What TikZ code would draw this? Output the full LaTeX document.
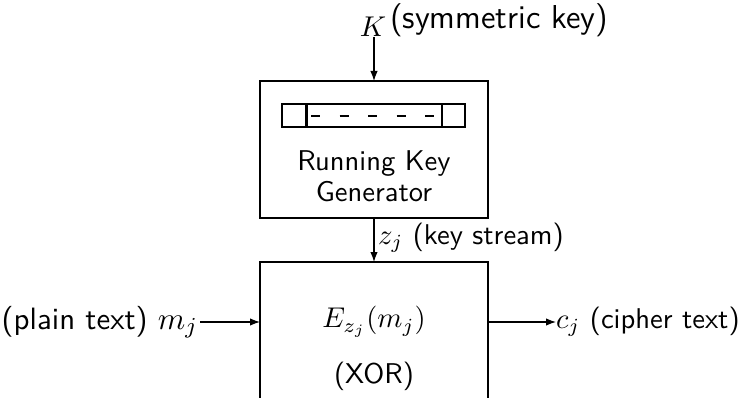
\documentclass[tikz,border=0pt]{standalone}
\usetikzlibrary{arrows.meta}
\begin{document}
\begin{tikzpicture}[x=0.35pt,y=-0.35pt,
  every node/.style={font=\sffamily, inner sep=0pt, outer sep=0pt},
  blk/.style={draw, line width=0.4pt},
  conn/.style={draw, line width=0.4pt, -{Latex[length=3.5pt,width=2.6pt]}},
  biglbl/.style={font=\sffamily\fontsize{11.6pt}{14pt}\selectfont},
  midlbl/.style={font=\sffamily\fontsize{10.8pt}{13pt}\selectfont},
  boxtxt/.style={font=\sffamily\fontsize{10pt}{10.8pt}\selectfont, align=center}]
\useasboundingbox (0,0) rectangle (743,398);
\clip (0,0) rectangle (743,398);
% top box
\node[blk, minimum width=228*0.35pt, minimum height=137*0.35pt] (rkg) at (374,149.5) {};
\node[boxtxt] (rkgtxt) at (374,176) {Running Key\\Generator};
% register
\coordinate (r1) at (282,104);
\coordinate (r2) at (465,127);
\draw[line width=0.4pt] (r1) rectangle (r2);
\draw[line width=0.8pt] (306.5,104) -- (306.5,127);
\draw[line width=0.8pt] (441.7,104) -- (441.7,127);
\draw[line width=0.5pt, dash pattern=on 9*0.35pt off 19.5*0.35pt] (311,116) -- (441.7,116);
% K
\node (K) at (373,27) {$K$};
\node[biglbl, anchor=west] (symkey) at (390,20) {(symmetric key)};
\coordinate (Kst) at (374,37);
\draw[conn] (Kst) -- (rkg.north -| Kst);
% bottom box
\node[blk, minimum width=228*0.35pt, minimum height=200*0.35pt] (xor) at (374,362) {};
\node (exp) at (374,322) {$E_{z_j}(m_j)$};
\node (xortxt) at (374,376) {(XOR)};
\draw[conn] (rkg.south) -- (xor.north);
\node[anchor=west] (ks) at (378,238) {$z_j$ (key stream)};
% left input
\node[midlbl, anchor=east] (pt) at (198,322) {(plain text) $m_j$};
\draw[conn] (pt.east) ++(2,0) coordinate (pte) (pte) -- (xor.west |- pte);
% right output
\node[anchor=west] (ct) at (556,322) {$c_j$ (cipher text)};
\draw[conn] (xor.east |- ct.west) -- (ct.west);
\end{tikzpicture}
\end{document}
